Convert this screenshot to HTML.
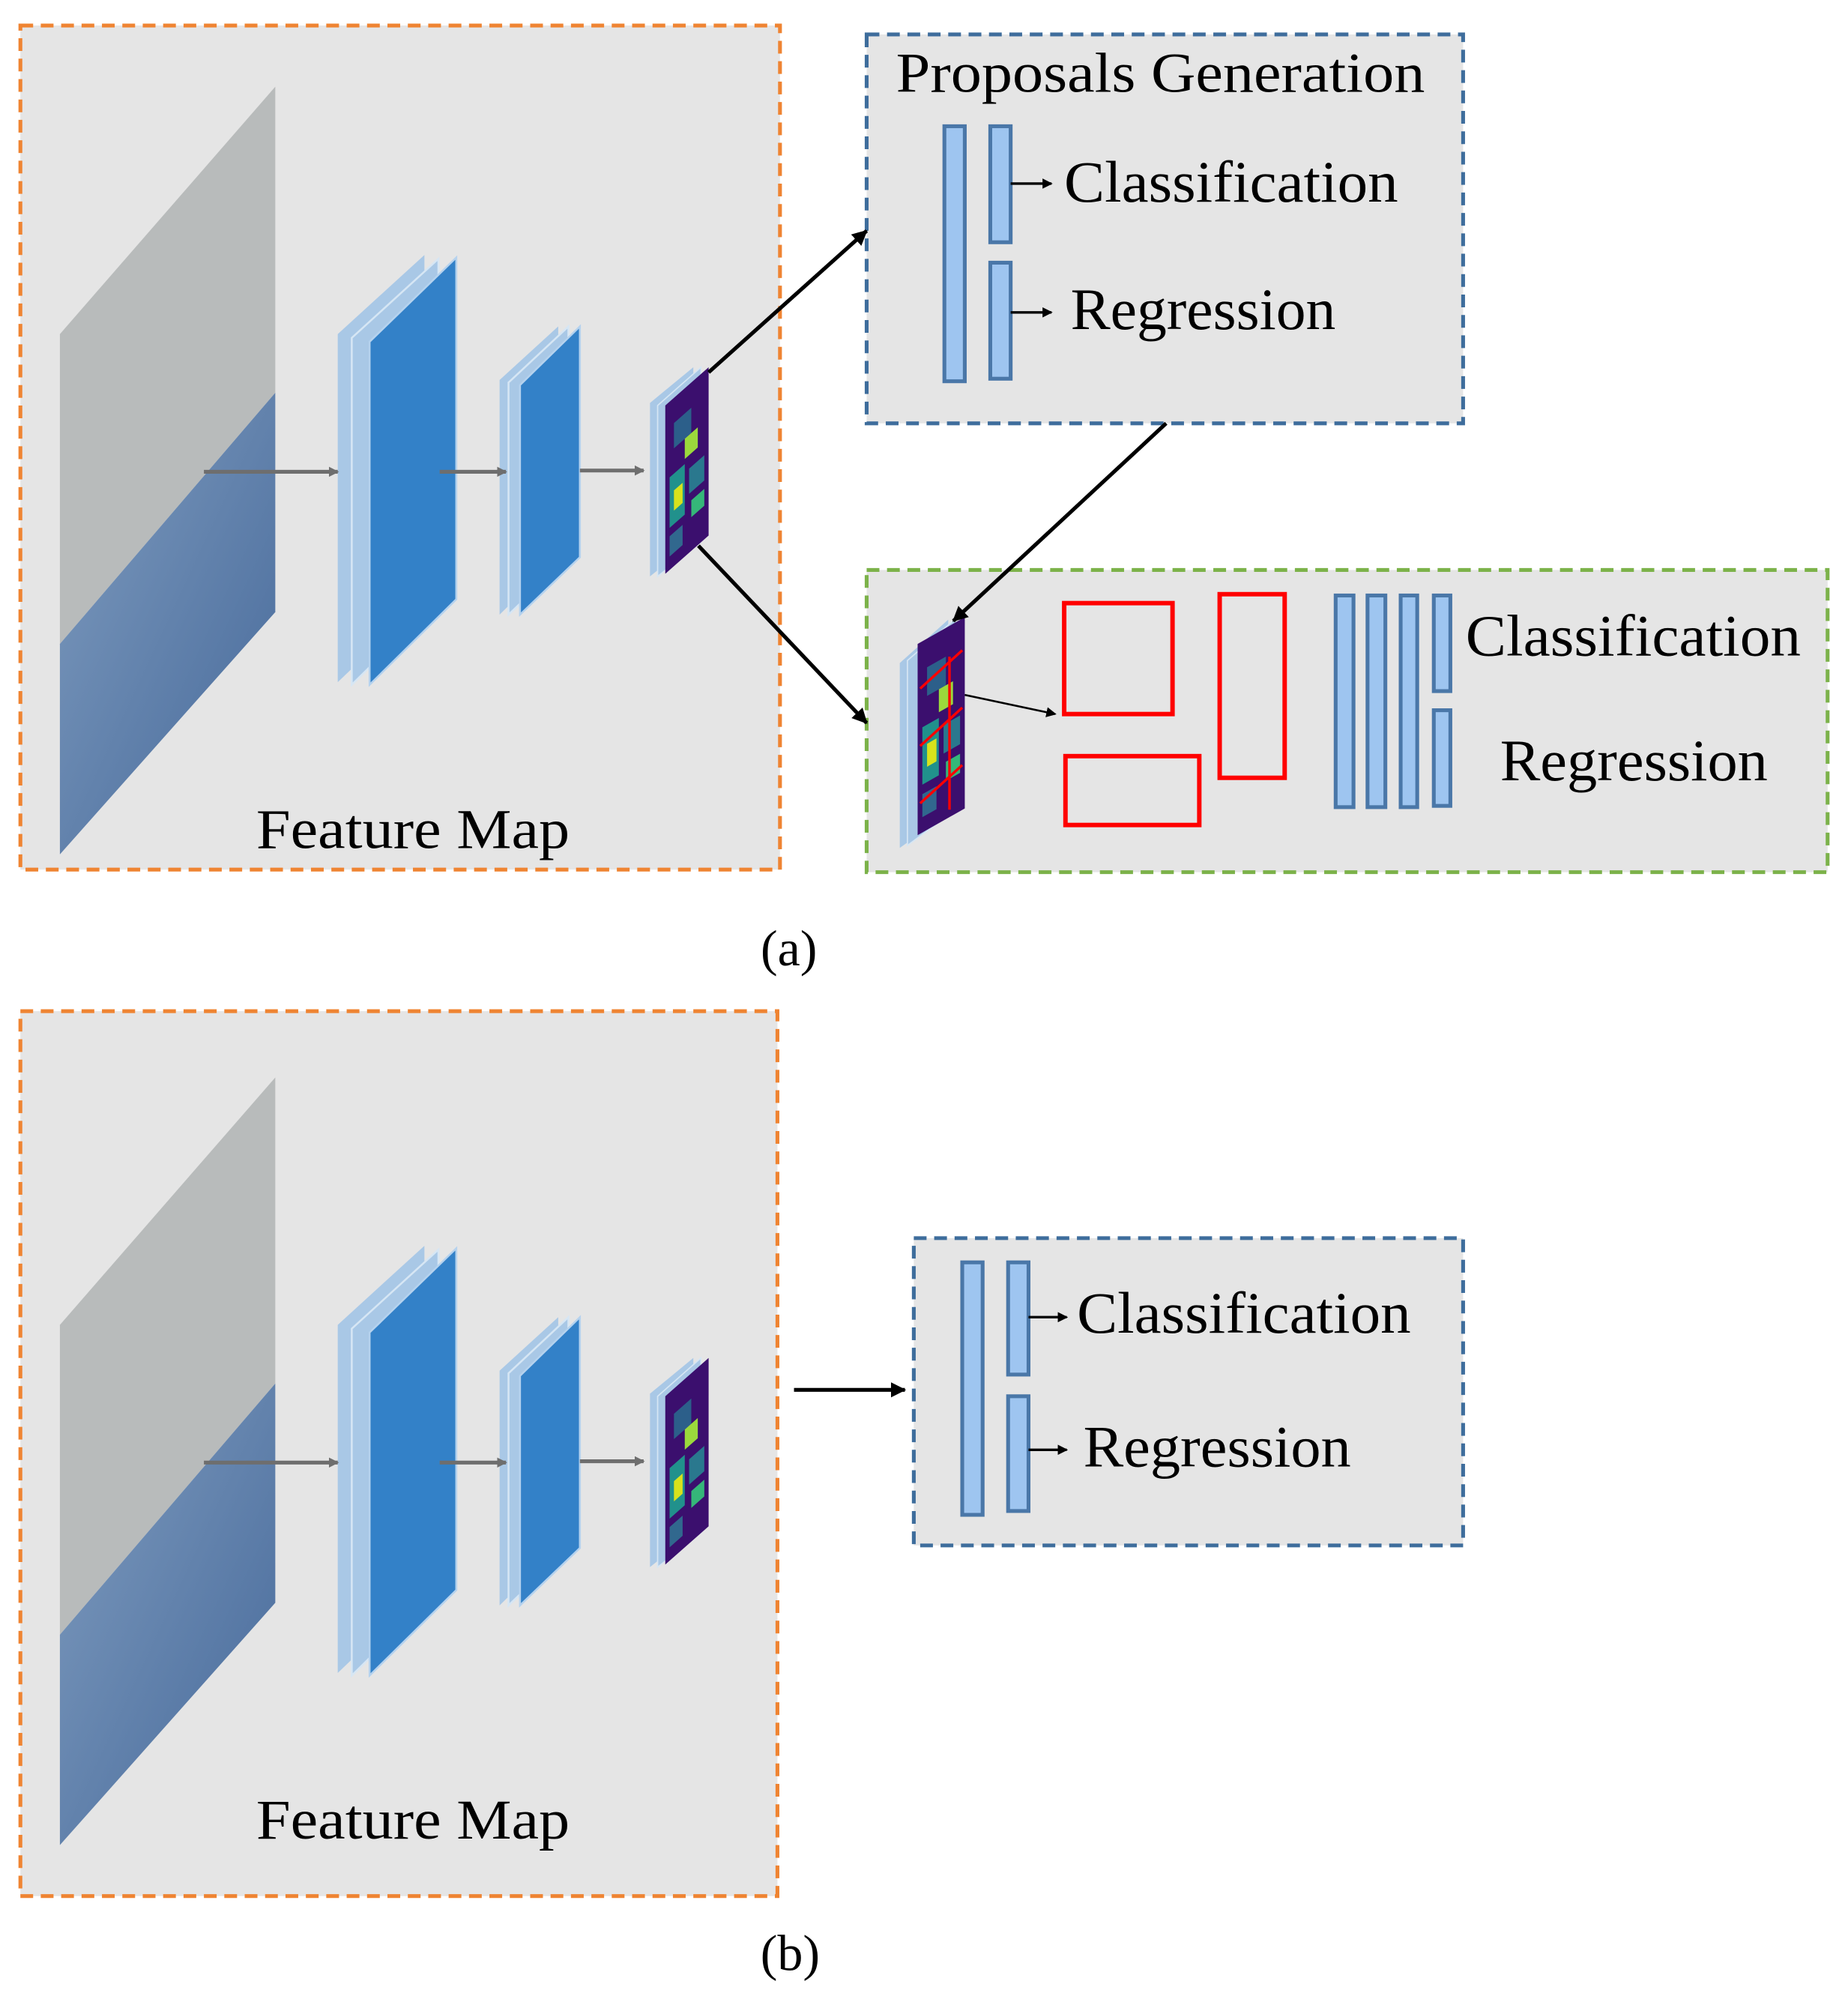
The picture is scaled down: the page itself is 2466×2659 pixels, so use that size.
<!DOCTYPE html>
<html><head><meta charset="utf-8"><style>
html,body{margin:0;padding:0;background:#fff;}
svg{display:block;}
text{font-family:"Liberation Serif",serif;fill:#000;}
</style></head><body>
<svg width="2466" height="2659" viewBox="0 0 1450 1563" preserveAspectRatio="none" xmlns="http://www.w3.org/2000/svg">
<defs>
<linearGradient id="sea" x1="0" y1="0" x2="1" y2="1">
<stop offset="0" stop-color="#7f9cbf"/><stop offset="1" stop-color="#46699a"/>
</linearGradient>
<marker id="ga" markerWidth="8" markerHeight="8" refX="7" refY="4" orient="auto" markerUnits="userSpaceOnUse"><path d="M0,0 L8,4 L0,8z" fill="#6e6e6e"/></marker>
<marker id="ba" markerWidth="12" markerHeight="12" refX="11" refY="6" orient="auto" markerUnits="userSpaceOnUse"><path d="M0,0 L12,6 L0,12z" fill="#000"/></marker>
<marker id="sa" markerWidth="8" markerHeight="8" refX="7" refY="4" orient="auto" markerUnits="userSpaceOnUse"><path d="M0,0 L8,4 L0,8z" fill="#000"/></marker>
<g id="heat">
<rect x="0" y="0" width="1" height="1" fill="#3b0f6e"/>
<rect x="0.2" y="0.15" width="0.4" height="0.15" fill="#2c5f8a"/>
<rect x="0.45" y="0.3" width="0.3" height="0.12" fill="#9bd93c"/>
<rect x="0.1" y="0.45" width="0.35" height="0.3" fill="#21918c"/>
<rect x="0.2" y="0.55" width="0.2" height="0.12" fill="#d8e21c"/>
<rect x="0.55" y="0.5" width="0.35" height="0.15" fill="#2a788e"/>
<rect x="0.6" y="0.7" width="0.3" height="0.1" fill="#35b779"/>
<rect x="0.1" y="0.8" width="0.3" height="0.12" fill="#31688e"/>
</g>
<g id="pipe">
<path d="M47,262 L216,68 L216,308 L47,505z" fill="#b8bbbb"/>
<path d="M47,505 L216,308 L216,480 L47,670z" fill="url(#sea)"/>
<path d="M265,262 L333,200 L333,470 L265,535z" fill="#a9c8e6"/>
<path d="M276,265 L344,203 L344,470 L276,537z" fill="#a9c8e6" stroke="#d6e6f4" stroke-width="1.5"/>
<path d="M290,268 L358,202 L358,470 L290,537z" fill="#3381c8" stroke="#b5d2ee" stroke-width="1.5"/>
<path d="M392,298 L438,256 L438,437 L392,482z" fill="#a9c8e6"/>
<path d="M399,300 L446,256 L446,437 L399,482z" fill="#a9c8e6" stroke="#d6e6f4" stroke-width="1.5"/>
<path d="M408,302 L455,256 L455,437 L408,482z" fill="#3381c8" stroke="#b5d2ee" stroke-width="1.5"/>
<path d="M510,316 L544,288 L544,425 L510,452z" fill="#a9c8e6"/>
<path d="M516,318 L550,288 L550,425 L516,452z" fill="#a9c8e6" stroke="#d6e6f4" stroke-width="1"/>
<use href="#heat" transform="matrix(34,-30,0,132,522,318)"/>
<line x1="160" y1="370" x2="265" y2="370" stroke="#6e6e6e" stroke-width="3" marker-end="url(#ga)"/>
<line x1="345" y1="370" x2="397" y2="370" stroke="#6e6e6e" stroke-width="3" marker-end="url(#ga)"/>
<line x1="455" y1="369" x2="505" y2="369" stroke="#6e6e6e" stroke-width="3" marker-end="url(#ga)"/>
<text x="201" y="665" font-size="44" textLength="246" lengthAdjust="spacingAndGlyphs">Feature Map</text>
</g>
</defs>
<rect width="1450" height="1563" fill="#fff"/>

<rect x="16" y="20" width="596" height="662" fill="#e5e5e5" stroke="#ef8432" stroke-width="3" stroke-dasharray="10,6"/>
<use href="#pipe"/>

<rect x="680" y="27" width="468" height="305" fill="#e5e5e5" stroke="#3e6d9c" stroke-width="3" stroke-dasharray="10,6"/>
<text x="703" y="72" font-size="44" textLength="415" lengthAdjust="spacingAndGlyphs">Proposals Generation</text>
<g fill="#9ec5f0" stroke="#4a77a8" stroke-width="3">
<rect x="741" y="99" width="16" height="200"/>
<rect x="777" y="99" width="16" height="91"/>
<rect x="777" y="206" width="16" height="91"/>
</g>
<line x1="793" y1="144" x2="825" y2="144" stroke="#000" stroke-width="2" marker-end="url(#sa)"/>
<line x1="793" y1="245" x2="825" y2="245" stroke="#000" stroke-width="2" marker-end="url(#sa)"/>
<text x="835" y="158" font-size="46" textLength="262" lengthAdjust="spacingAndGlyphs">Classification</text>
<text x="840" y="258" font-size="46" textLength="208" lengthAdjust="spacingAndGlyphs">Regression</text>

<rect x="680" y="447" width="754" height="237" fill="#e5e5e5" stroke="#7cb24a" stroke-width="3" stroke-dasharray="10,6"/>
<path d="M706,520 L744,486 L744,638 L706,665z" fill="#a9c8e6"/>
<path d="M712,518 L750,485 L750,635 L712,663z" fill="#a9c8e6" stroke="#d6e6f4" stroke-width="1"/>
<use href="#heat" transform="matrix(37,-21,0,150,720,505)"/>
<g stroke="#f00" stroke-width="2" fill="none">
<path d="M722,540 L755,510 M722,585 L755,555 M722,630 L755,600 M745,515 L745,635"/>
</g>
<g fill="none" stroke="#f00" stroke-width="3.5">
<rect x="835" y="473" width="85" height="87"/>
<rect x="957" y="466" width="51" height="144"/>
<rect x="836" y="593" width="105" height="54"/>
</g>
<g fill="#9ec5f0" stroke="#4a77a8" stroke-width="3">
<rect x="1048" y="467" width="14" height="166"/>
<rect x="1073" y="467" width="14" height="166"/>
<rect x="1099" y="467" width="13" height="166"/>
<rect x="1125" y="467" width="13" height="75"/>
<rect x="1125" y="557" width="13" height="75"/>
</g>
<text x="1150" y="514" font-size="46" textLength="263" lengthAdjust="spacingAndGlyphs">Classification</text>
<text x="1177" y="612" font-size="46" textLength="210" lengthAdjust="spacingAndGlyphs">Regression</text>

<line x1="556" y1="292" x2="680" y2="181" stroke="#000" stroke-width="3" marker-end="url(#ba)"/>
<line x1="915" y1="332" x2="748" y2="487" stroke="#000" stroke-width="3" marker-end="url(#ba)"/>
<line x1="548" y1="428" x2="680" y2="567" stroke="#000" stroke-width="3" marker-end="url(#ba)"/>
<line x1="757" y1="545" x2="828" y2="560" stroke="#000" stroke-width="1.5" marker-end="url(#sa)"/>

<text x="619" y="757" font-size="40" text-anchor="middle">(a)</text>

<rect x="16" y="793" width="594" height="694" fill="#e5e5e5" stroke="#ef8432" stroke-width="3" stroke-dasharray="10,6"/>
<use href="#pipe" transform="translate(0,777)"/>
<line x1="623" y1="1090" x2="710" y2="1090" stroke="#000" stroke-width="3" marker-end="url(#ba)"/>
<rect x="717" y="971" width="431" height="241" fill="#e5e5e5" stroke="#3e6d9c" stroke-width="3" stroke-dasharray="10,6"/>
<g fill="#9ec5f0" stroke="#4a77a8" stroke-width="3">
<rect x="755" y="990" width="16" height="198"/>
<rect x="791" y="990" width="16" height="88"/>
<rect x="791" y="1095" width="16" height="90"/>
</g>
<line x1="807" y1="1033" x2="837" y2="1033" stroke="#000" stroke-width="2" marker-end="url(#sa)"/>
<line x1="807" y1="1137" x2="837" y2="1137" stroke="#000" stroke-width="2" marker-end="url(#sa)"/>
<text x="845" y="1045" font-size="46" textLength="262" lengthAdjust="spacingAndGlyphs">Classification</text>
<text x="850" y="1150" font-size="46" textLength="210" lengthAdjust="spacingAndGlyphs">Regression</text>
<text x="620" y="1545" font-size="40" text-anchor="middle">(b)</text>
</svg>
</body></html>
